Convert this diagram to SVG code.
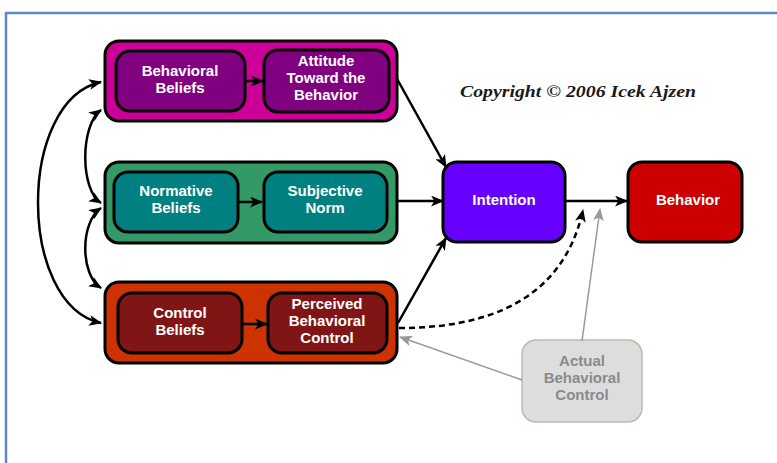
<svg xmlns="http://www.w3.org/2000/svg" width="777" height="463" viewBox="0 0 777 463">
<style>
.t{font-family:"Liberation Sans","DejaVu Sans",sans-serif;font-weight:bold;font-size:15px;fill:#ffffff;text-anchor:middle}
.g{fill:#8a8a8a}
.box{stroke:#000;stroke-width:3}
.ln{fill:none;stroke:#000;stroke-width:2.5}
.gl{fill:none;stroke:#999;stroke-width:1.5}
</style>
<defs>
<marker id="ah" viewBox="0 0 12 10" refX="11" refY="5" markerWidth="13" markerHeight="11" markerUnits="userSpaceOnUse" orient="auto-start-reverse">
<path d="M0,0 L12,5 L0,10 L3,5 z" fill="#000"/>
</marker>
<marker id="gh" viewBox="0 0 12 10" refX="11" refY="5" markerWidth="13" markerHeight="11" markerUnits="userSpaceOnUse" orient="auto">
<path d="M0,0 L12,5 L0,10 L3,5 z" fill="#999"/>
</marker>
</defs>
<rect width="777" height="463" fill="#fff"/>
<path d="M6,463 V13 H777" fill="none" stroke="#5b8ac6" stroke-width="2.5"/>
<text x="460" y="97" font-family="'Liberation Serif','DejaVu Serif',serif" font-style="italic" font-weight="bold" font-size="17" textLength="236" lengthAdjust="spacingAndGlyphs" fill="#1a1a1a">Copyright © 2006 Icek Ajzen</text>

<g id="attitude-group">
<rect class="box" x="105" y="41" width="292" height="80" rx="14" fill="#cc0099"/>
</g>
<g id="behavioral-beliefs">
<rect class="box" x="116" y="51" width="129" height="60" rx="14" fill="#800080"/>
<text class="t" x="180" y="76">Behavioral</text>
<text class="t" x="180" y="93">Beliefs</text>
</g>
<g id="attitude">
<rect class="box" x="264" y="50" width="125" height="62" rx="14" fill="#800080"/>
<text class="t" x="326" y="66">Attitude</text>
<text class="t" x="326" y="83">Toward the</text>
<text class="t" x="326" y="100">Behavior</text>
</g>

<g id="norm-group">
<rect class="box" x="105" y="162" width="292" height="81" rx="14" fill="#339966"/>
</g>
<g id="normative-beliefs">
<rect class="box" x="114" y="172" width="124" height="60" rx="14" fill="#008080"/>
<text class="t" x="176" y="196">Normative</text>
<text class="t" x="176" y="213">Beliefs</text>
</g>
<g id="subjective-norm">
<rect class="box" x="264" y="172" width="123" height="60" rx="14" fill="#008080"/>
<text class="t" x="325" y="196">Subjective</text>
<text class="t" x="325" y="213">Norm</text>
</g>

<g id="control-group">
<rect class="box" x="105" y="282" width="292" height="81" rx="14" fill="#cc3300"/>
</g>
<g id="control-beliefs">
<rect class="box" x="118" y="293" width="124" height="60" rx="14" fill="#801515"/>
<text class="t" x="180" y="318">Control</text>
<text class="t" x="180" y="335">Beliefs</text>
</g>
<g id="perceived-control">
<rect class="box" x="268" y="293" width="119" height="60" rx="14" fill="#801515"/>
<text class="t" x="327" y="309">Perceived</text>
<text class="t" x="327" y="326">Behavioral</text>
<text class="t" x="327" y="343">Control</text>
</g>

<g id="intention">
<rect class="box" x="443" y="162" width="122" height="80" rx="14" fill="#6600ff"/>
<text class="t" x="504" y="205">Intention</text>
</g>
<g id="behavior">
<rect class="box" x="628" y="162" width="114" height="80" rx="14" fill="#cc0000"/>
<text class="t" x="688" y="205">Behavior</text>
</g>
<g id="actual-control">
<rect x="522" y="340" width="120" height="82" rx="14" fill="#dddddd" stroke="#bbbbaa" stroke-width="1.5"/>
<text class="t g" x="582" y="366">Actual</text>
<text class="t g" x="582" y="383">Behavioral</text>
<text class="t g" x="582" y="400">Control</text>
</g>

<g id="connectors">
<path class="ln" d="M101,82 C17,100 17,305 101,323" marker-start="url(#ah)" marker-end="url(#ah)"/>
<path class="ln" d="M101,110 C80,125 80,190 101,203" marker-start="url(#ah)" marker-end="url(#ah)"/>
<path class="ln" d="M101,208 C80,222 80,275 101,288" marker-start="url(#ah)" marker-end="url(#ah)"/>
<path class="ln" d="M246,81 H263" marker-end="url(#ah)"/>
<path class="ln" d="M239,202 H262" marker-end="url(#ah)"/>
<path class="ln" d="M243,324 H267" marker-end="url(#ah)"/>
<path class="ln" d="M396,77 L446,167" marker-end="url(#ah)"/>
<path class="ln" d="M398,201 H443" marker-end="url(#ah)"/>
<path class="ln" d="M398,323 L446,238" marker-end="url(#ah)"/>
<path class="ln" d="M566,201 H627" marker-end="url(#ah)"/>
<path class="ln" d="M399,328 C480,328 562,305 583,210" stroke-dasharray="6,4" marker-end="url(#ah)"/>
<path class="gl" d="M582,341 L600,209" marker-end="url(#gh)"/>
<path class="gl" d="M522,380 L400,337" marker-end="url(#gh)"/>
</g>
</svg>
